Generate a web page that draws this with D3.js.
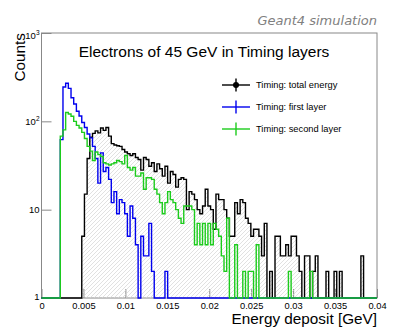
<!DOCTYPE html>
<html>
<head>
<meta charset="utf-8">
<script src="https://cdn.jsdelivr.net/npm/d3@7/dist/d3.min.js"></script>
<style>
body { margin: 0; background: #fff; }
text { font-family: "Liberation Sans", Arial, Helvetica, sans-serif; }
</style>
</head>
<body>
<div id="chart"></div>
<script>
// histogram binning, 125 bins over the axis range
var binLow = 0, binHigh = 0.04, nBins = 125;

// counts per bin (0 = empty, drawn on the floor of the log axis)
var totalEnergy = [
  0,0,0,0,0,0,0,0,0,0, 0,0,0,0,0,5,15,38,66,73,
  78,74,84,79,85,68,56,54,53,52, 48,45,43,41,43,39,37,28,39,37,
  31,34,27,33,29,24,31,20,27,25, 18,22,23,22,10,16,15,13,10,9,
  11,17,11,10,6,15,13,13,10,8, 5,5,12,9,13,12,8,7,5,6,
  6,5,3,7,0,2,0,5,5,3, 3,4,3,5,5,3,2,0,3,3,
  0,2,3,0,0,0,2,0,0,2, 0,2,0,0,0,0,0,0,0,3,
  0,0,0,0,0
];
var firstLayer = [
  0,0,0,0,0,0,0,62,245,270, 236,185,157,130,115,97,85,72,65,52,
  38,20,44,27,30,22,12,16,9,13, 12,9,5,11,8,4,0,5,3,3,
  7,2,0,0,0,0,2,0,0,0, 0,0,0,0,0,0,0,0,0,0,
  0,0,0,0,0,0,0,0,0,0, 0,0,0,0,0,0,0,0,0,0,
  0,0,0,0,0,0,0,0,0,0, 0,0,0,0,0,0,0,0,0,0,
  0,0,0,0,0,0,0,0,0,0, 0,0,0,0,0,0,0,0,0,0,
  0,0,0,0,0
];
var secondLayer = [
  0,0,0,0,0,0,0,68,80,126, 121,114,100,90,84,75,64,52,46,36,
  45,42,40,34,33,32,33,34,36,35, 33,41,30,28,30,24,24,26,17,23,
  23,22,17,15,12,9,12,16,13,12, 10,8,7,11,11,11,10,4,7,4,
  7,4,7,4,7,6,5,3,2,8, 0,0,4,0,0,2,0,2,2,0,
  4,0,0,0,0,0,0,0,0,0, 0,0,2,0,0,0,0,0,0,0,
  2,0,0,0,0,0,0,0,0,0, 0,0,0,0,0,0,0,0,0,0,
  0,0,0,0,0
];

var xTicks = [0, 0.005, 0.01, 0.015, 0.02, 0.025, 0.03, 0.035, 0.04];
var xTickLabels = ["0", "0.005", "0.01", "0.015", "0.02", "0.025", "0.03", "0.035", "0.04"];
var yTicks = [1, 10, 100, 1000];
var yTickBase = ["1", "10", "10", "10"];
var yTickExp = ["", "", "2", "3"];

var seriesNames = ["Timing: total energy", "Timing: first layer", "Timing: second layer"];
var seriesColors = ["#000000", "#0000ee", "#1ccc1c"];

var width = 419, height = 331;
var frame = {left: 41.5, right: 377, top: 33, bottom: 298};

var svg = d3.select("#chart").append("svg")
    .attr("width", width)
    .attr("height", height);

var x = d3.scaleLinear().domain([binLow, binHigh]).range([frame.left, frame.right]);
var y = d3.scaleLog().domain([1, 1000]).range([frame.bottom, frame.top]);

var edges = d3.range(nBins + 1).map(function(i){ return binLow + (binHigh - binLow) * i / nBins; });

// hatch pattern for the total energy fill
var defs = svg.append("defs");
var pat = defs.append("pattern")
    .attr("id", "hatch")
    .attr("patternUnits", "userSpaceOnUse")
    .attr("width", 4).attr("height", 4);
pat.append("path")
    .attr("d", "M-1,1 l2,-2 M0,4 l4,-4 M3,5 l2,-2")
    .attr("stroke", "#d4d4d4")
    .attr("stroke-width", 0.7);

// axes: ticks point inside the frame
var minorX = d3.range(0, 41).map(function(i){ return i * 0.001; });
var minorY = [];
[1, 10, 100].forEach(function(dec){ d3.range(2, 10).forEach(function(m){ minorY.push(dec * m); }); });

var gx = svg.append("g").attr("transform", "translate(0," + frame.bottom + ")");
gx.call(d3.axisBottom(x).tickValues(minorX).tickSize(-4.5).tickFormat(""));
gx.call(d3.axisBottom(x).tickValues(xTicks).tickSize(-9).tickPadding(4)
    .tickFormat(function(d, i){ return xTickLabels[i]; }));
gx.selectAll(".domain").remove();
gx.selectAll("line").attr("stroke", "#888");
gx.selectAll("text").attr("font-size", "9.3px").attr("fill", "#000")
    .style("font-family", "'Liberation Sans', Arial, sans-serif");

var gy = svg.append("g").attr("transform", "translate(" + frame.left + ",0)");
gy.call(d3.axisLeft(y).tickValues(minorY).tickSize(-5).tickFormat(""));
gy.call(d3.axisLeft(y).tickValues(yTicks).tickSize(-10).tickFormat(""));
gy.selectAll(".domain").remove();
gy.selectAll("line").attr("stroke", "#888");

var yLab = svg.append("g").attr("font-size", "9.5px");
yTicks.forEach(function(v, i){
  var t = yLab.append("text")
      .attr("x", frame.left - 2)
      .attr("y", Math.min(frame.bottom + 1.5, Math.max(frame.top + 5.5, y(v) + 3.5)))
      .attr("text-anchor", "end");
  t.append("tspan").text(yTickBase[i]);
  if (yTickExp[i]) t.append("tspan").attr("font-size", "6.5px").attr("dy", -4).text(yTickExp[i]);
});

// frame
svg.append("rect")
    .attr("x", frame.left).attr("y", frame.top)
    .attr("width", frame.right - frame.left).attr("height", frame.bottom - frame.top)
    .attr("fill", "none").attr("stroke", "#888").attr("stroke-width", 1);

// histograms
function binPoints(counts) {
  var pts = counts.map(function(c, i){ return [edges[i], Math.max(c, 1)]; });
  pts.push([edges[nBins], Math.max(counts[nBins - 1], 1)]);
  return pts;
}
var stepLine = d3.line()
    .x(function(d){ return x(d[0]); })
    .y(function(d){ return y(d[1]); })
    .curve(d3.curveStepAfter);
var stepArea = d3.area()
    .x(function(d){ return x(d[0]); })
    .y0(y(1))
    .y1(function(d){ return y(d[1]); })
    .curve(d3.curveStepAfter);

svg.append("path")
    .datum(binPoints(totalEnergy))
    .attr("d", stepArea)
    .attr("fill", "url(#hatch)");

[totalEnergy, firstLayer, secondLayer].forEach(function(counts, i){
  svg.append("path")
      .datum(binPoints(counts))
      .attr("d", stepLine)
      .attr("fill", "none")
      .attr("stroke", seriesColors[i])
      .attr("stroke-width", 1.4)
      .attr("stroke-linejoin", "miter");
});

// legend
var legendY = [85, 107, 129];
var leg = svg.append("g");
seriesNames.forEach(function(name, i){
  var g = leg.append("g").attr("transform", "translate(0," + legendY[i] + ")");
  g.append("line").attr("x1", 222).attr("x2", 250).attr("y1", 0).attr("y2", 0)
      .attr("stroke", seriesColors[i]).attr("stroke-width", 1.4);
  g.append("line").attr("x1", 236).attr("x2", 236).attr("y1", -6.5).attr("y2", 6.5)
      .attr("stroke", seriesColors[i]).attr("stroke-width", 1.4);
  if (i === 0) g.append("circle").attr("cx", 236).attr("cy", 0).attr("r", 3).attr("fill", "#000");
  g.append("text").attr("x", 256).attr("y", 3.2).attr("font-size", "9.3px").text(name);
});

// texts
svg.append("text")
    .attr("x", 204).attr("y", 56.5)
    .attr("text-anchor", "middle")
    .attr("font-size", "15.5px")
    .text("Electrons of 45 GeV in Timing layers");

svg.append("text")
    .attr("x", frame.right).attr("y", 25)
    .attr("text-anchor", "end")
    .attr("font-size", "13px")
    .attr("font-style", "italic")
    .attr("fill", "#808080")
    .style("font-family", "'DejaVu Sans', sans-serif")
    .text("Geant4 simulation");

svg.append("text")
    .attr("transform", "translate(25," + frame.top + ") rotate(-90)")
    .attr("text-anchor", "end")
    .attr("font-size", "15.3px")
    .text("Counts");

svg.append("text")
    .attr("x", frame.right).attr("y", 324)
    .attr("text-anchor", "end")
    .attr("font-size", "15.3px")
    .text("Energy deposit [GeV]");
</script>
</body>
</html>
